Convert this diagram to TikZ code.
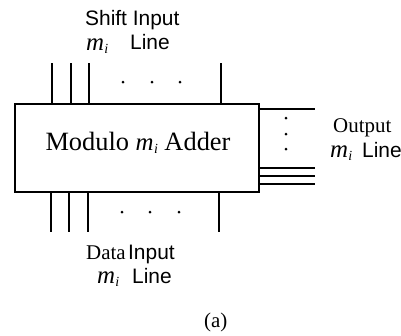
\documentclass[tikz,border=0pt]{standalone}
\usepackage{fontspec}
\setmainfont{Liberation Serif}
\newfontfamily\arialfont{Liberation Sans}
\newcommand{\mvar}{{\fontsize{25}{25}\selectfont\itshape m}\kern0.3pt\raisebox{-4pt}{\fontsize{14}{14}\selectfont\itshape i}}
\newcommand{\sanstxt}[1]{{\arialfont\fontsize{21}{25}\selectfont #1}}
\newcommand{\seriftxt}[1]{{\fontsize{21}{25}\selectfont #1}}
\begin{document}
\begin{tikzpicture}[x=1bp,y=-1bp,
  wire/.style={draw=black,line width=1.6bp},
  dotnode/.style={circle,fill=black,inner sep=0pt,minimum size=3bp},
  lbl/.style={inner sep=0pt,anchor=base west}]
\useasboundingbox (0,0) rectangle (401,336);
% main box
\node[draw,line width=1.6bp,minimum width=244bp,minimum height=88bp,inner sep=0pt,anchor=north west] (adder) at (14,103) {};
\node[inner sep=0pt,anchor=base] (title) at (138,150) {\fontsize{26.5}{26.5}\selectfont Modulo \mvar\ Adder};
% top input lines
\coordinate (t1) at (52,63);
\coordinate (t2) at (71,63);
\coordinate (t3) at (89,63);
\coordinate (t4) at (221,63);
\foreach \c in {t1,t2,t3,t4} \draw[wire] (\c) -- (\c |- adder.north);
\node[dotnode] (td1) at (123,82) {};
\node[dotnode] (td2) at (152,82) {};
\node[dotnode] (td3) at (180,82) {};
% bottom input lines
\coordinate (b1) at (51,232);
\coordinate (b2) at (69,232);
\coordinate (b3) at (88,232);
\coordinate (b4) at (219,232);
\foreach \c in {b1,b2,b3,b4} \draw[wire] (\c |- adder.south) -- (\c);
\node[dotnode] (bd1) at (122,212) {};
\node[dotnode] (bd2) at (150,212) {};
\node[dotnode] (bd3) at (179,212) {};
% output lines
\coordinate (o1) at (315,109);
\coordinate (o2) at (315,168);
\coordinate (o3) at (315,176);
\coordinate (o4) at (315,184);
\foreach \c in {o1,o2,o3,o4} \draw[wire] (\c -| adder.east) -- (\c);
\node[dotnode] (od1) at (286,118) {};
\node[dotnode] (od2) at (286,134) {};
\node[dotnode] (od3) at (286,149) {};
% labels
\node[lbl] (shiftlbl) at (85,25) {\sanstxt{Shift Input}};
\node[lbl] (shiftm) at (86,50) {\mvar};
\node[lbl] (shiftline) at (130,49) {\sanstxt{Line}};
\node[lbl] (outlbl) at (333,132) {\seriftxt{Output}};
\node[lbl] (outm) at (330,157) {\mvar};
\node[lbl] (outline) at (362,157) {\sanstxt{Line}};
\node[lbl] (datalbl) at (86,259) {\seriftxt{Data} \sanstxt{Input}};
\node[lbl] (datam) at (97,283) {\mvar};
\node[lbl] (dataline) at (132,283) {\sanstxt{Line}};
\node[lbl] (caption) at (204,327) {\seriftxt{(a)}};
\end{tikzpicture}
\end{document}
